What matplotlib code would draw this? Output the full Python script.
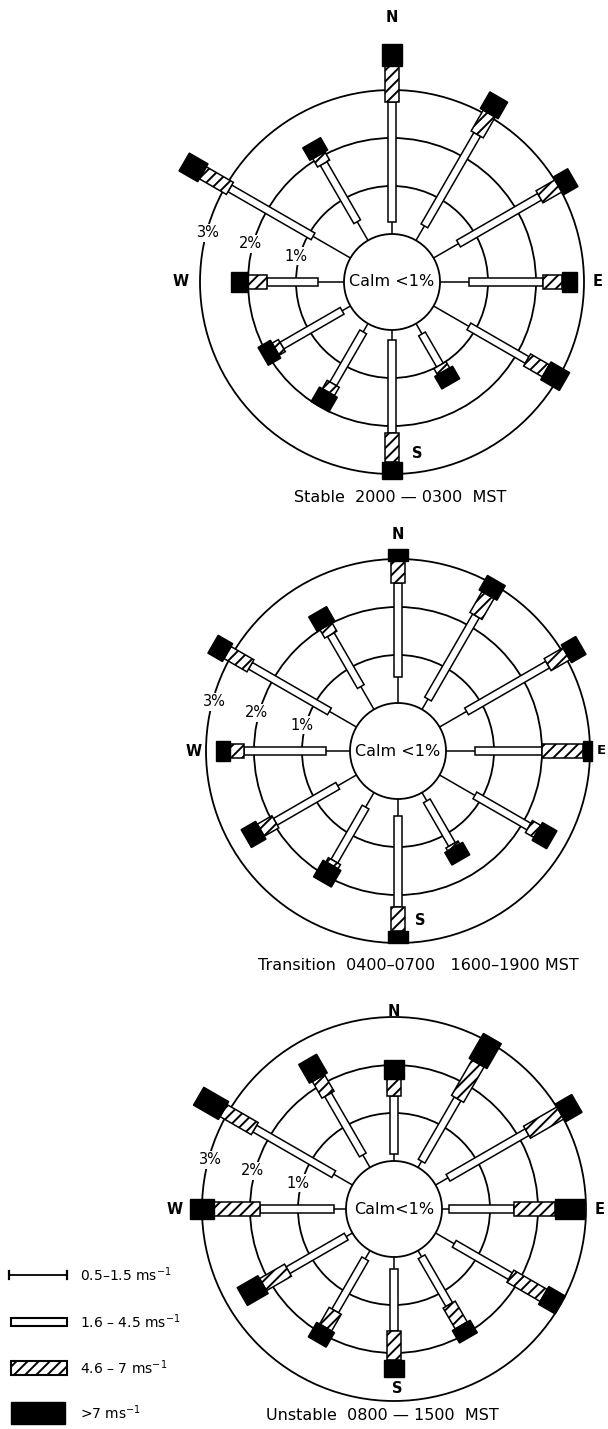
import numpy as np
import matplotlib
matplotlib.use("Agg")
import matplotlib.pyplot as plt
from matplotlib.patches import Polygon, Circle, Rectangle

# ---------------- data (frequency %, per speed class) ----------------
directions = [0, 30, 60, 90, 120, 150, 180, 210, 240, 270, 300, 330]
speed_classes = ["0.5\u20131.5 ms$^{-1}$", "1.6 \u2013 4.5 ms$^{-1}$",
                 "4.6 \u2013 7 ms$^{-1}$", ">7 ms$^{-1}$"]

stable_light    = [0.25, 0.35, 0.60, 0.60, 0.85, 0.25, 0.20, 0.20, 0.20, 0.55, 0.90, 0.45]
stable_moderate = [2.50, 2.20, 1.95, 1.55, 1.40, 0.75, 1.95, 1.25, 1.45, 1.05, 2.00, 1.40]
stable_fresh    = [0.75, 0.50, 0.45, 0.40, 0.45, 0.15, 0.60, 0.20, 0.15, 0.40, 0.65, 0.20]
stable_strong   = [0.45, 0.40, 0.35, 0.30, 0.45, 0.30, 0.35, 0.35, 0.30, 0.35, 0.45, 0.30]

trans_light     = [0.55, 0.25, 0.65, 0.60, 0.85, 0.20, 0.35, 0.35, 0.45, 0.50, 0.65, 0.55]
trans_moderate  = [1.95, 2.00, 1.95, 1.40, 1.30, 1.05, 1.90, 1.30, 1.50, 1.70, 1.90, 1.25]
trans_fresh     = [0.45, 0.50, 0.45, 0.85, 0.20, 0.07, 0.50, 0.10, 0.35, 0.30, 0.55, 0.20]
trans_strong    = [0.25, 0.35, 0.35, 0.20, 0.35, 0.30, 0.25, 0.40, 0.35, 0.30, 0.35, 0.35]

unst_light      = [0.15, 0.15, 0.30, 0.15, 0.45, 0.15, 0.25, 0.20, 0.15, 0.25, 0.45, 0.30]
unst_moderate   = [1.20, 1.50, 1.90, 1.35, 1.35, 1.15, 1.30, 1.25, 1.40, 1.55, 1.90, 1.45]
unst_fresh      = [0.35, 0.85, 0.80, 0.85, 0.80, 0.50, 0.60, 0.40, 0.60, 0.95, 0.75, 0.40]
unst_strong     = [0.40, 0.60, 0.40, 0.60, 0.40, 0.30, 0.35, 0.35, 0.50, 0.50, 0.60, 0.45]

ring_pcts = [1, 2, 3]
captions = ["Stable  2000 \u2014 0300  MST",
            "Transition  0400\u20130700   1600\u20131900 MST",
            "Unstable  0800 \u2014 1500  MST"]
calm_labels = ["Calm <1%", "Calm <1%", "Calm<1%"]

# ---------------- layout ----------------
W, H = 608, 1429
S = 48.0  # pixels per 1 % (calm circle radius = 1 unit)
centers = [(392, 282), (398, 751), (394, 1209)]
caption_pos = [(400, 498), (418, 965), (382, 1415)]
# compass label offsets (units)
compass = [
    {"N": (0.0, 5.50), "E": (4.28, 0.0), "W": (-4.40, 0.0), "S": (0.52, -3.58)},
    {"N": (0.0, 4.52), "E": (4.23, 0.0), "W": (-4.25, 0.0), "S": (0.46, -3.54)},
    {"N": (0.0, 4.12), "E": (4.29, 0.0), "W": (-4.58, 0.0), "S": (0.06, -3.74)},
]

W_OPEN, W_HATCH, W_BLACK = 0.16, 0.29, 0.43

plt.rcParams["font.family"] = ["DejaVu Sans"]
plt.rcParams["hatch.linewidth"] = 1.4

fig = plt.figure(figsize=(W / 100, H / 100), dpi=100)
fig.patch.set_facecolor("white")


def bar_poly(theta_deg, r0, r1, w):
    t = np.deg2rad(theta_deg)
    u = np.array([np.sin(t), np.cos(t)])
    n = np.array([np.cos(t), -np.sin(t)])
    return np.array([r0 * u + w / 2 * n, r1 * u + w / 2 * n,
                     r1 * u - w / 2 * n, r0 * u - w / 2 * n])


roses = [
    (stable_light, stable_moderate, stable_fresh, stable_strong),
    (trans_light, trans_moderate, trans_fresh, trans_strong),
    (unst_light, unst_moderate, unst_fresh, unst_strong),
]

for i, classes in enumerate(roses):
    cx, cy = centers[i]
    ax = fig.add_axes([0, 0, 1, 1])
    ax.set_xlim(-cx / S, (W - cx) / S)
    ax.set_ylim((cy - H) / S, cy / S)
    ax.axis("off")

    # rings
    for p in ring_pcts:
        ax.add_patch(Circle((0, 0), 1 + p, fill=False, lw=1.3, ec="black", zorder=1))

    cum = np.cumsum(np.array(classes), axis=0)  # 4 x 12
    for j, d in enumerate(directions):
        t = np.deg2rad(d)
        r_a, r_b, r_c, r_d = 1 + cum[:, j]
        # thin line (light winds)
        ax.plot([np.sin(t) * 1.0, np.sin(t) * r_a], [np.cos(t) * 1.0, np.cos(t) * r_a],
                color="black", lw=1.1, zorder=2, solid_capstyle="butt")
        # open bar
        ax.add_patch(Polygon(bar_poly(d, r_a, r_b, W_OPEN), closed=True,
                             fc="white", ec="black", lw=1.1, zorder=3))
        # hatched bar
        ax.add_patch(Polygon(bar_poly(d, r_b, r_c, W_HATCH), closed=True,
                             fc="white", ec="black", lw=1.1, hatch="///", zorder=3))
        # black bar
        ax.add_patch(Polygon(bar_poly(d, r_c, r_d, W_BLACK), closed=True,
                             fc="black", ec="black", lw=1.0, zorder=3))

    # calm circle
    ax.add_patch(Circle((0, 0), 1.0, fc="white", ec="black", lw=1.3, zorder=4))
    ax.text(0, 0, calm_labels[i], ha="center", va="center", fontsize=11.5, zorder=6)

    # ring labels at ~285 deg
    ang = np.deg2rad(285)
    for p, rr in zip(ring_pcts, [2.08, 3.06, 3.96]):
        ax.text(np.sin(ang) * rr, np.cos(ang) * rr, f"{p}%", ha="center", va="center",
                fontsize=10.5, zorder=7,
                bbox=dict(boxstyle="square,pad=0.12", fc="white", ec="none"))

    for lab, (lx, ly) in compass[i].items():
        ax.text(lx, ly, lab, ha="center", va="center",
                fontsize=9.5 if (i == 1 and lab == "E") else 10.5,
                fontweight="bold", zorder=7)

    fig.text(caption_pos[i][0] / W, 1 - caption_pos[i][1] / H, captions[i],
             ha="center", va="center", fontsize=11.5)

# ---------------- legend ----------------
lg = fig.add_axes([0, 0, 1, 1])
lg.set_xlim(0, W)
lg.set_ylim(H, 0)
lg.axis("off")
ys = [1275, 1322, 1368, 1413]
lg.plot([9, 67], [ys[0], ys[0]], color="black", lw=1.3)
lg.plot([9, 9], [ys[0] - 4, ys[0] + 4], color="black", lw=1.6)
lg.plot([67, 67], [ys[0] - 4, ys[0] + 4], color="black", lw=1.6)
lg.add_patch(Rectangle((11, ys[1] - 4), 56, 8, fc="white", ec="black", lw=1.5))
lg.add_patch(Rectangle((11, ys[2] - 7), 56, 14, fc="white", ec="black", lw=1.5, hatch="///"))
lg.add_patch(Rectangle((11, ys[3] - 11), 54, 22, fc="black", ec="black", lw=1.0))
for y, lab in zip(ys, speed_classes):
    lg.text(80, y, lab, ha="left", va="center", fontsize=10)

fig.savefig("out.png", dpi=100, facecolor="white")
